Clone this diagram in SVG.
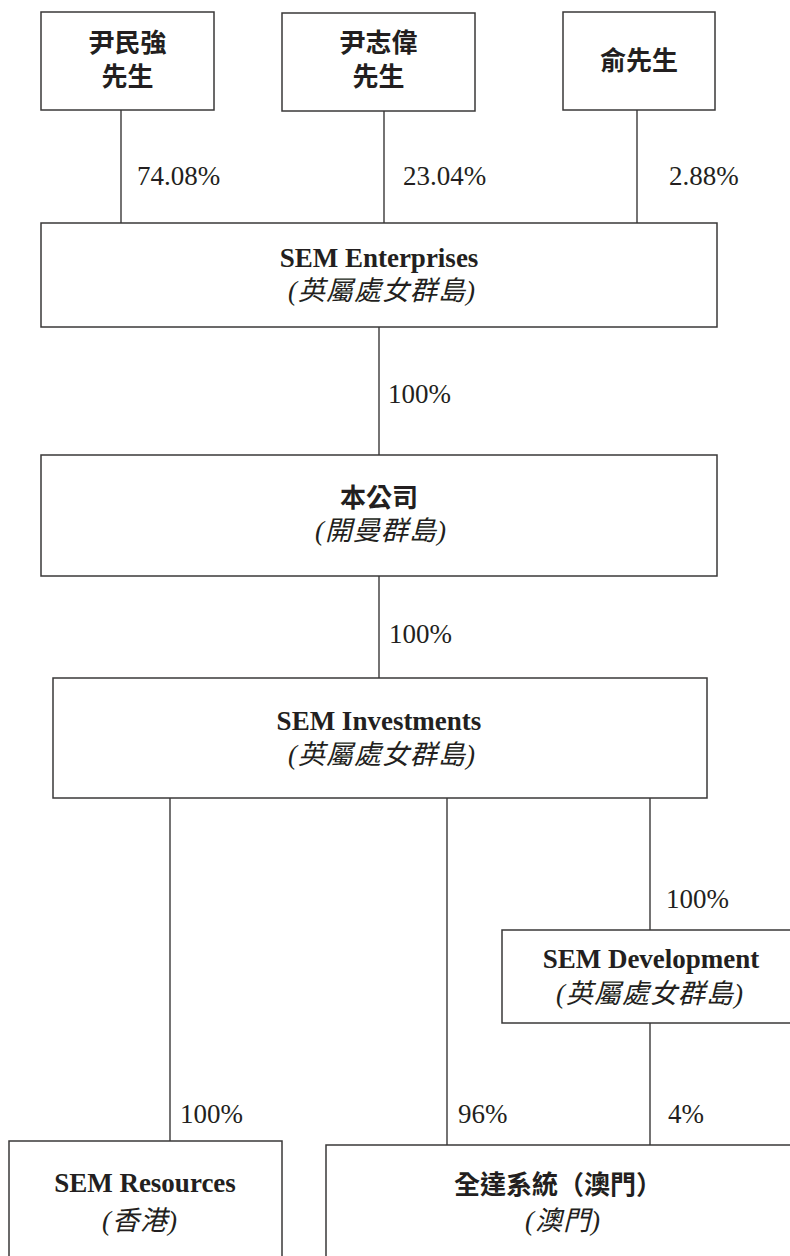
<svg xmlns="http://www.w3.org/2000/svg" width="790" height="1256" viewBox="0 0 790 1256">
<style>
.box{fill:#fff;stroke:#3a3838;stroke-width:1.5}
.ln{stroke:#3a3838;stroke-width:1.4;fill:none}
.cn{font-family:"Noto Sans CJK TC","Noto Sans CJK SC",sans-serif;font-weight:700;font-size:26px;fill:#231f20;text-anchor:middle}
.en{font-family:"Liberation Serif","Noto Sans CJK TC",serif;font-weight:700;font-size:27px;fill:#231f20;text-anchor:middle}
.sub{font-family:"Liberation Serif","Noto Sans CJK TC",serif;font-style:italic;font-size:27px;fill:#231f20;text-anchor:middle;letter-spacing:1px}
.pct{font-family:"Liberation Serif",serif;font-size:27px;fill:#231f20}
</style>
<rect width="790" height="1256" fill="#fff"/>
<g id="connectors">
<line class="ln" x1="121" y1="110" x2="121" y2="223"/>
<line class="ln" x1="384" y1="111" x2="384" y2="223"/>
<line class="ln" x1="637" y1="110" x2="637" y2="223"/>
<line class="ln" x1="379" y1="327" x2="379" y2="455"/>
<line class="ln" x1="379" y1="576" x2="379" y2="678"/>
<line class="ln" x1="170" y1="798" x2="170" y2="1141"/>
<line class="ln" x1="447" y1="798" x2="447" y2="1145"/>
<line class="ln" x1="650" y1="798" x2="650" y2="930"/>
<line class="ln" x1="650" y1="1023" x2="650" y2="1145"/>
<text class="pct" x="137" y="185">74.08%</text>
<text class="pct" x="403" y="185">23.04%</text>
<text class="pct" x="669" y="185">2.88%</text>
<text class="pct" x="388" y="403">100%</text>
<text class="pct" x="389" y="643">100%</text>
<text class="pct" x="666" y="908">100%</text>
<text class="pct" x="180" y="1123">100%</text>
<text class="pct" x="458" y="1123">96%</text>
<text class="pct" x="668" y="1123">4%</text>
</g>
<g id="n1">
<rect class="box" x="41" y="12" width="173" height="98"/>
<text class="cn" x="127.5" y="52">尹民強</text>
<text class="cn" x="127.5" y="86">先生</text>
</g>
<g id="n2">
<rect class="box" x="282" y="13" width="193" height="98"/>
<text class="cn" x="378.5" y="52">尹志偉</text>
<text class="cn" x="378.5" y="86">先生</text>
</g>
<g id="n3">
<rect class="box" x="563" y="12" width="152" height="98"/>
<text class="cn" x="639" y="70">俞先生</text>
</g>
<g id="n4">
<rect class="box" x="41" y="223" width="676" height="104"/>
<text class="en" x="379" y="267">SEM Enterprises</text>
<text class="sub" x="382" y="300">(英屬處女群島)</text>
</g>
<g id="n5">
<rect class="box" x="41" y="455" width="676" height="121"/>
<text class="cn" x="379" y="507">本公司</text>
<text class="sub" x="381" y="540">(開曼群島)</text>
</g>
<g id="n6">
<rect class="box" x="53" y="678" width="654" height="120"/>
<text class="en" x="379" y="730">SEM Investments</text>
<text class="sub" x="382" y="764">(英屬處女群島)</text>
</g>
<g id="n7">
<rect class="box" x="502" y="930" width="300" height="93"/>
<text class="en" x="651" y="968">SEM Development</text>
<text class="sub" x="650" y="1003">(英屬處女群島)</text>
</g>
<g id="n8">
<rect class="box" x="9" y="1141" width="273" height="130"/>
<text class="en" x="145" y="1192">SEM Resources</text>
<text class="sub" x="140" y="1230">(香港)</text>
</g>
<g id="n9">
<rect class="box" x="326" y="1145" width="480" height="130"/>
<text class="cn" x="558" y="1194">全達系統（澳門）</text>
<text class="sub" x="563" y="1230">(澳門)</text>
</g>
</svg>
